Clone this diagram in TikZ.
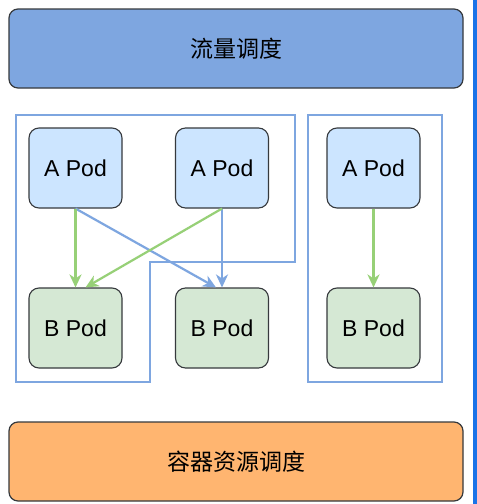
\documentclass[tikz,border=0pt]{standalone}
\usepackage{fontspec}
\setmainfont{Liberation Sans}
\newfontfamily\cjk{Noto Sans CJK SC}
\usetikzlibrary{arrows.meta}
\definecolor{topfill}{HTML}{7EA6E0}
\definecolor{botfill}{HTML}{FFB570}
\definecolor{apod}{HTML}{CCE5FF}
\definecolor{bpod}{HTML}{D5E8D4}
\definecolor{edgedark}{HTML}{36393D}
\definecolor{lineblue}{HTML}{7EA6E0}
\definecolor{linegreen}{HTML}{97D077}
\definecolor{barblue}{HTML}{1A73E8}
\tikzset{
  layerbox/.style={draw=edgedark, line width=1.2pt, rounded corners=9pt, minimum width=454pt, minimum height=79pt, inner sep=0pt, font=\cjk\fontsize{23}{27}\selectfont},
  podbox/.style={draw=edgedark, line width=1.1pt, rounded corners=10pt, minimum width=93pt, minimum height=80pt, inner sep=0pt, font=\fontsize{23}{27}\selectfont},
  groupline/.style={draw=lineblue, line width=2pt},
  arr/.style={line width=2.2pt, -{Stealth[length=13pt,width=12pt,inset=4pt]}},
}
\begin{document}
\begin{tikzpicture}[x=1pt,y=-1pt]
\useasboundingbox (0,0) rectangle (477,504);
\fill[white] (0,0) rectangle (477,504);
\fill[barblue] (473,0) rectangle (477,504);
% layers
\node[layerbox, fill=topfill] (traffic) at (236,48.5) {流量调度};
\node[layerbox, fill=botfill] (resource) at (236,461.5) {容器资源调度};
% groups
\draw[groupline] (16,115) -- (295,115) -- (295,262) -- (150,262) -- (150,382) -- (16,382) -- cycle;
\draw[groupline] (308,115) rectangle (442,382);
% pods
\node[podbox, fill=apod] (a1) at (75.5,168) {A Pod};
\node[podbox, fill=apod] (a2) at (222,168) {A Pod};
\node[podbox, fill=apod] (a3) at (373.5,168) {A Pod};
\node[podbox, fill=bpod] (b1) at (75.5,328) {B Pod};
\node[podbox, fill=bpod] (b2) at (222,328) {B Pod};
\node[podbox, fill=bpod] (b3) at (373.5,328) {B Pod};
% connectors
\draw[arr, lineblue] (a1.south) -- ([xshift=-6pt]b2.north);
\draw[arr, lineblue] (a2.south) -- (b2.north);
\draw[arr, linegreen] (a1.south) -- (b1.north);
\draw[arr, linegreen] (a2.south) -- ([xshift=10pt]b1.north);
\draw[arr, linegreen] (a3.south) -- (b3.north);
\end{tikzpicture}
\end{document}
